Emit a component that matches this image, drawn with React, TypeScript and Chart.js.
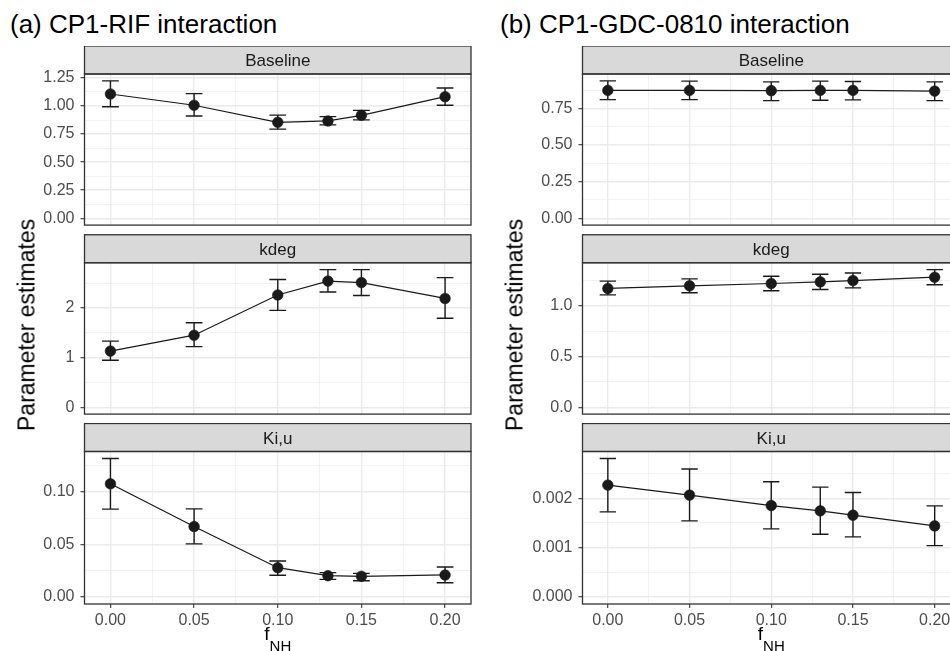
import React, { useEffect, useRef } from 'react';
import { Chart, registerables } from 'chart.js';

Chart.register(...registerables);

const FONT = '"Liberation Sans", Arial, Helvetica, sans-serif';
Chart.defaults.font.family = FONT;

// ---------------- data ----------------
const fNH = [0, 0.05, 0.1, 0.13, 0.15, 0.2];
const xTickValues = [0, 0.05, 0.1, 0.15, 0.2];
const xTickLabels = ['0.00', '0.05', '0.10', '0.15', '0.20'];
const errorBarWidth = 0.01;

// (a) CP1-RIF interaction
const rifBaseline = [1.107, 1.007, 0.855, 0.867, 0.917, 1.083];
const rifBaselineLo = [0.993, 0.911, 0.794, 0.832, 0.876, 1.007];
const rifBaselineHi = [1.224, 1.11, 0.919, 0.905, 0.961, 1.16];
const rifKdeg = [1.13, 1.45, 2.26, 2.54, 2.51, 2.19];
const rifKdegLo = [0.946, 1.22, 1.95, 2.32, 2.25, 1.79];
const rifKdegHi = [1.33, 1.7, 2.57, 2.77, 2.77, 2.61];
const rifKiu = [0.1076, 0.067, 0.0279, 0.0203, 0.0197, 0.021];
const rifKiuLo = [0.0835, 0.0505, 0.0207, 0.0168, 0.0155, 0.0136];
const rifKiuHi = [0.1317, 0.0838, 0.0343, 0.0232, 0.0225, 0.0286];

// (b) CP1-GDC-0810 interaction
const gdcBaseline = [0.874, 0.874, 0.872, 0.874, 0.874, 0.869];
const gdcBaselineLo = [0.811, 0.811, 0.804, 0.806, 0.809, 0.804];
const gdcBaselineHi = [0.939, 0.937, 0.932, 0.937, 0.935, 0.932];
const gdcKdeg = [1.173, 1.199, 1.222, 1.238, 1.251, 1.284];
const gdcKdegLo = [1.11, 1.13, 1.15, 1.163, 1.179, 1.209];
const gdcKdegHi = [1.245, 1.268, 1.294, 1.313, 1.326, 1.359];
const gdcKiu = [0.002265, 0.002063, 0.001852, 0.001744, 0.001657, 0.00144];
const gdcKiuLo = [0.001724, 0.001542, 0.001379, 0.001272, 0.001217, 0.001041];
const gdcKiuHi = [0.002805, 0.00259, 0.002333, 0.002225, 0.002116, 0.001846];

// y tick values / labels
const baselineTicksA = [0, 0.25, 0.5, 0.75, 1.0, 1.25];
const baselineLabelsA = ['0.00', '0.25', '0.50', '0.75', '1.00', '1.25'];
const kdegTicksA = [0, 1, 2];
const kdegLabelsA = ['0', '1', '2'];
const kiuTicksA = [0, 0.05, 0.1];
const kiuLabelsA = ['0.00', '0.05', '0.10'];
const baselineTicksB = [0, 0.25, 0.5, 0.75];
const baselineLabelsB = ['0.00', '0.25', '0.50', '0.75'];
const kdegTicksB = [0, 0.5, 1.0];
const kdegLabelsB = ['0.0', '0.5', '1.0'];
const kiuTicksB = [0, 0.001, 0.002];
const kiuLabelsB = ['0.000', '0.001', '0.002'];

const facetNames = ['Baseline', 'kdeg', 'Ki,u'];
const panelTitles = ['(a) CP1-RIF interaction', '(b) CP1-GDC-0810 interaction'];
const yAxisTitle = 'Parameter estimates';

// ---------------- layout ----------------
const PANELS = {
  a: { canvasLeft: 0, canvasWidth: 480, plotLeft: 84.5, plotRight: 471 },
  b: { canvasLeft: 480, canvasWidth: 490, plotLeft: 582.5, plotRight: 960 },
};
const ROWS = [
  { stripTop: 46, plotTop: 74, plotBottom: 226.5 },
  { stripTop: 234.75, plotTop: 262.75, plotBottom: 415.25 },
  { stripTop: 423.5, plotTop: 451.5, plotBottom: 604 },
];

const INK = '#1a1a1a';
const GRID = '#ebebeb';
const FRAME = '#333333';
const TICKTXT = '#4d4d4d';

type Facet = {
  panel: 'a' | 'b';
  row: number;
  y: number[];
  lo: number[];
  hi: number[];
  ticks: number[];
  labels: string[];
};

const FACETS: Facet[] = [
  { panel: 'a', row: 0, y: rifBaseline, lo: rifBaselineLo, hi: rifBaselineHi, ticks: baselineTicksA, labels: baselineLabelsA },
  { panel: 'a', row: 1, y: rifKdeg, lo: rifKdegLo, hi: rifKdegHi, ticks: kdegTicksA, labels: kdegLabelsA },
  { panel: 'a', row: 2, y: rifKiu, lo: rifKiuLo, hi: rifKiuHi, ticks: kiuTicksA, labels: kiuLabelsA },
  { panel: 'b', row: 0, y: gdcBaseline, lo: gdcBaselineLo, hi: gdcBaselineHi, ticks: baselineTicksB, labels: baselineLabelsB },
  { panel: 'b', row: 1, y: gdcKdeg, lo: gdcKdegLo, hi: gdcKdegHi, ticks: kdegTicksB, labels: kdegLabelsB },
  { panel: 'b', row: 2, y: gdcKiu, lo: gdcKiuLo, hi: gdcKiuHi, ticks: kiuTicksB, labels: kiuLabelsB },
];

function expandRange(lo: number, hi: number): [number, number] {
  const span = hi - lo;
  return [lo - 0.05 * span, hi + 0.05 * span];
}

function makeTicks(majors: number[], labels: string[], min: number, max: number) {
  const step = majors[1] - majors[0];
  const out: any[] = majors.map((v, i) => ({ value: v, lbl: labels[i], minor: false }));
  for (let k = -1; k < majors.length; k++) {
    const v = majors[0] + (k + 0.5) * step;
    if (v > min && v < max) out.push({ value: v, lbl: '', minor: true });
  }
  out.sort((p, q) => p.value - q.value);
  return out;
}

function FacetChart({ f }: { f: Facet }) {
  const ref = useRef<HTMLCanvasElement>(null);
  const P = PANELS[f.panel];
  const R = ROWS[f.row];
  const isBottom = f.row === 2;
  const canvasTop = Math.floor(R.stripTop);
  const plotBottomLocal = R.plotBottom - canvasTop;
  const canvasHeight = Math.ceil(plotBottomLocal) + (isBottom ? 44 : 4);

  useEffect(() => {
    const canvas = ref.current;
    if (!canvas) return;
    const [xMin, xMax] = expandRange(
      Math.min(...fNH) - errorBarWidth / 2,
      Math.max(...fNH) + errorBarWidth / 2
    );
    const [yMin, yMax] = expandRange(Math.min(0, ...f.lo), Math.max(...f.hi));
    const stripH = R.plotTop - R.stripTop;
    const yAxisW = P.plotLeft - P.canvasLeft;
    const padRight = P.canvasLeft + P.canvasWidth - P.plotRight;
    const xAxisH = isBottom ? canvasHeight - plotBottomLocal : 0;
    const padBottom = isBottom ? 0 : canvasHeight - plotBottomLocal;

    const errorBars = {
      id: 'errorBars',
      beforeDatasetsDraw(chart: any) {
        const { ctx, scales } = chart;
        const xs = scales.x;
        const ys = scales.y;
        ctx.save();
        ctx.strokeStyle = INK;
        ctx.lineWidth = 1.4;
        fNH.forEach((xv, i) => {
          const px = xs.getPixelForValue(xv);
          const l = xs.getPixelForValue(xv - errorBarWidth / 2);
          const r = xs.getPixelForValue(xv + errorBarWidth / 2);
          const yl = ys.getPixelForValue(f.lo[i]);
          const yh = ys.getPixelForValue(f.hi[i]);
          ctx.beginPath();
          ctx.moveTo(px, yl);
          ctx.lineTo(px, yh);
          ctx.moveTo(l, yl);
          ctx.lineTo(r, yl);
          ctx.moveTo(l, yh);
          ctx.lineTo(r, yh);
          ctx.stroke();
        });
        ctx.restore();
      },
    };

    const facetFrame = {
      id: 'facetFrame',
      afterDraw(chart: any) {
        const { ctx, chartArea: a } = chart;
        const w = a.right - a.left;
        ctx.save();
        ctx.fillStyle = '#d9d9d9';
        ctx.fillRect(a.left, a.top - stripH, w, stripH);
        ctx.strokeStyle = FRAME;
        ctx.lineWidth = 1.3;
        ctx.strokeRect(a.left, a.top - stripH, w, stripH);
        ctx.strokeRect(a.left, a.top, w, a.bottom - a.top);
        ctx.fillStyle = INK;
        ctx.font = `17px ${FONT}`;
        ctx.textAlign = 'center';
        ctx.textBaseline = 'alphabetic';
        ctx.fillText(facetNames[f.row], a.left + w / 2, a.top - stripH / 2 + 6.1);
        ctx.restore();
      },
    };

    const gridOpts = (showTicks: boolean) => ({
      color: GRID,
      lineWidth: (c: any) => (c.tick && c.tick.minor ? 0.7 : 1.4),
      drawTicks: true,
      tickLength: 4,
      tickWidth: 1.1,
      tickColor: (c: any) => (showTicks && c.tick && !c.tick.minor ? FRAME : 'rgba(0,0,0,0)'),
    });

    const chart = new Chart(canvas, {
      type: 'line',
      data: {
        datasets: [
          {
            data: fNH.map((x, i) => ({ x, y: f.y[i] })),
            borderColor: INK,
            borderWidth: 1.2,
            pointRadius: 5.3,
            pointBorderWidth: 0.6,
            pointBackgroundColor: INK,
            pointBorderColor: INK,
            tension: 0,
          },
        ],
      },
      options: {
        animation: false,
        responsive: false,
        devicePixelRatio: 1,
        events: [],
        layout: {
          padding: { top: R.plotTop - canvasTop, left: 0, right: padRight, bottom: padBottom },
        },
        plugins: {
          legend: { display: false },
          tooltip: { enabled: false },
          title: { display: false },
        },
        scales: {
          x: {
            type: 'linear',
            min: xMin,
            max: xMax,
            bounds: 'data',
            border: { display: false },
            grid: gridOpts(isBottom) as any,
            ticks: {
              display: isBottom,
              autoSkip: false,
              maxRotation: 0,
              minRotation: 0,
              padding: 3,
              color: TICKTXT,
              font: { size: 16, family: FONT },
              callback: (_v: any, i: number, t: any[]) => (t[i] && t[i].lbl) || '',
            },
            afterBuildTicks: (axis: any) => {
              axis.ticks = makeTicks(xTickValues, xTickLabels, xMin, xMax);
            },
            afterFit: (axis: any) => {
              axis.height = xAxisH;
              axis.paddingLeft = 0;
              axis.paddingRight = 0;
            },
          },
          y: {
            type: 'linear',
            min: yMin,
            max: yMax,
            bounds: 'data',
            border: { display: false },
            grid: gridOpts(true) as any,
            ticks: {
              autoSkip: false,
              padding: 6,
              color: TICKTXT,
              font: { size: 16, family: FONT },
              callback: (_v: any, i: number, t: any[]) => (t[i] && t[i].lbl) || '',
            },
            afterBuildTicks: (axis: any) => {
              axis.ticks = makeTicks(f.ticks, f.labels, yMin, yMax);
            },
            afterFit: (axis: any) => {
              axis.width = yAxisW;
              axis.paddingTop = 0;
              axis.paddingBottom = 0;
            },
          },
        },
      } as any,
      plugins: [errorBars, facetFrame],
    });
    return () => chart.destroy();
  }, []);

  return (
    <canvas
      ref={ref}
      width={P.canvasWidth}
      height={canvasHeight}
      style={{
        position: 'absolute',
        left: P.canvasLeft,
        top: canvasTop,
        width: P.canvasWidth,
        height: canvasHeight,
      }}
    />
  );
}

export default function App() {
  const panelKeys: ('a' | 'b')[] = ['a', 'b'];
  const titleLeft = [10, 500];
  const yTitleCx = [27, 515];
  return (
    <div
      style={{
        position: 'absolute',
        left: 0,
        top: 0,
        width: 950,
        height: 651,
        overflow: 'hidden',
        background: '#ffffff',
        fontFamily: FONT,
      }}
    >
      {FACETS.map((f, i) => (
        <FacetChart key={i} f={f} />
      ))}
      {panelKeys.map((k, i) => {
        const P = PANELS[k];
        const cx = (P.plotLeft + P.plotRight) / 2;
        const cy = (ROWS[0].stripTop + ROWS[2].plotBottom) / 2;
        return (
          <React.Fragment key={k}>
            <div
              style={{
                position: 'absolute',
                left: titleLeft[i],
                top: 11.3,
                fontSize: 26,
                lineHeight: '26px',
                color: '#000',
                whiteSpace: 'nowrap',
              }}
            >
              {panelTitles[i]}
            </div>
            <div
              style={{
                position: 'absolute',
                left: yTitleCx[i],
                top: cy,
                fontSize: 23,
                lineHeight: '23px',
                color: '#000',
                whiteSpace: 'nowrap',
                transform: 'translate(-50%, -50%) rotate(-90deg)',
              }}
            >
              {yAxisTitle}
            </div>
            <div
              style={{
                position: 'absolute',
                left: cx,
                top: 624.4,
                fontSize: 19,
                lineHeight: '19px',
                color: '#000',
                whiteSpace: 'nowrap',
                transform: 'translateX(-50%)',
              }}
            >
              <span>f</span>
              <span style={{ fontSize: 15, position: 'relative', top: 11 }}>NH</span>
            </div>
          </React.Fragment>
        );
      })}
    </div>
  );
}
